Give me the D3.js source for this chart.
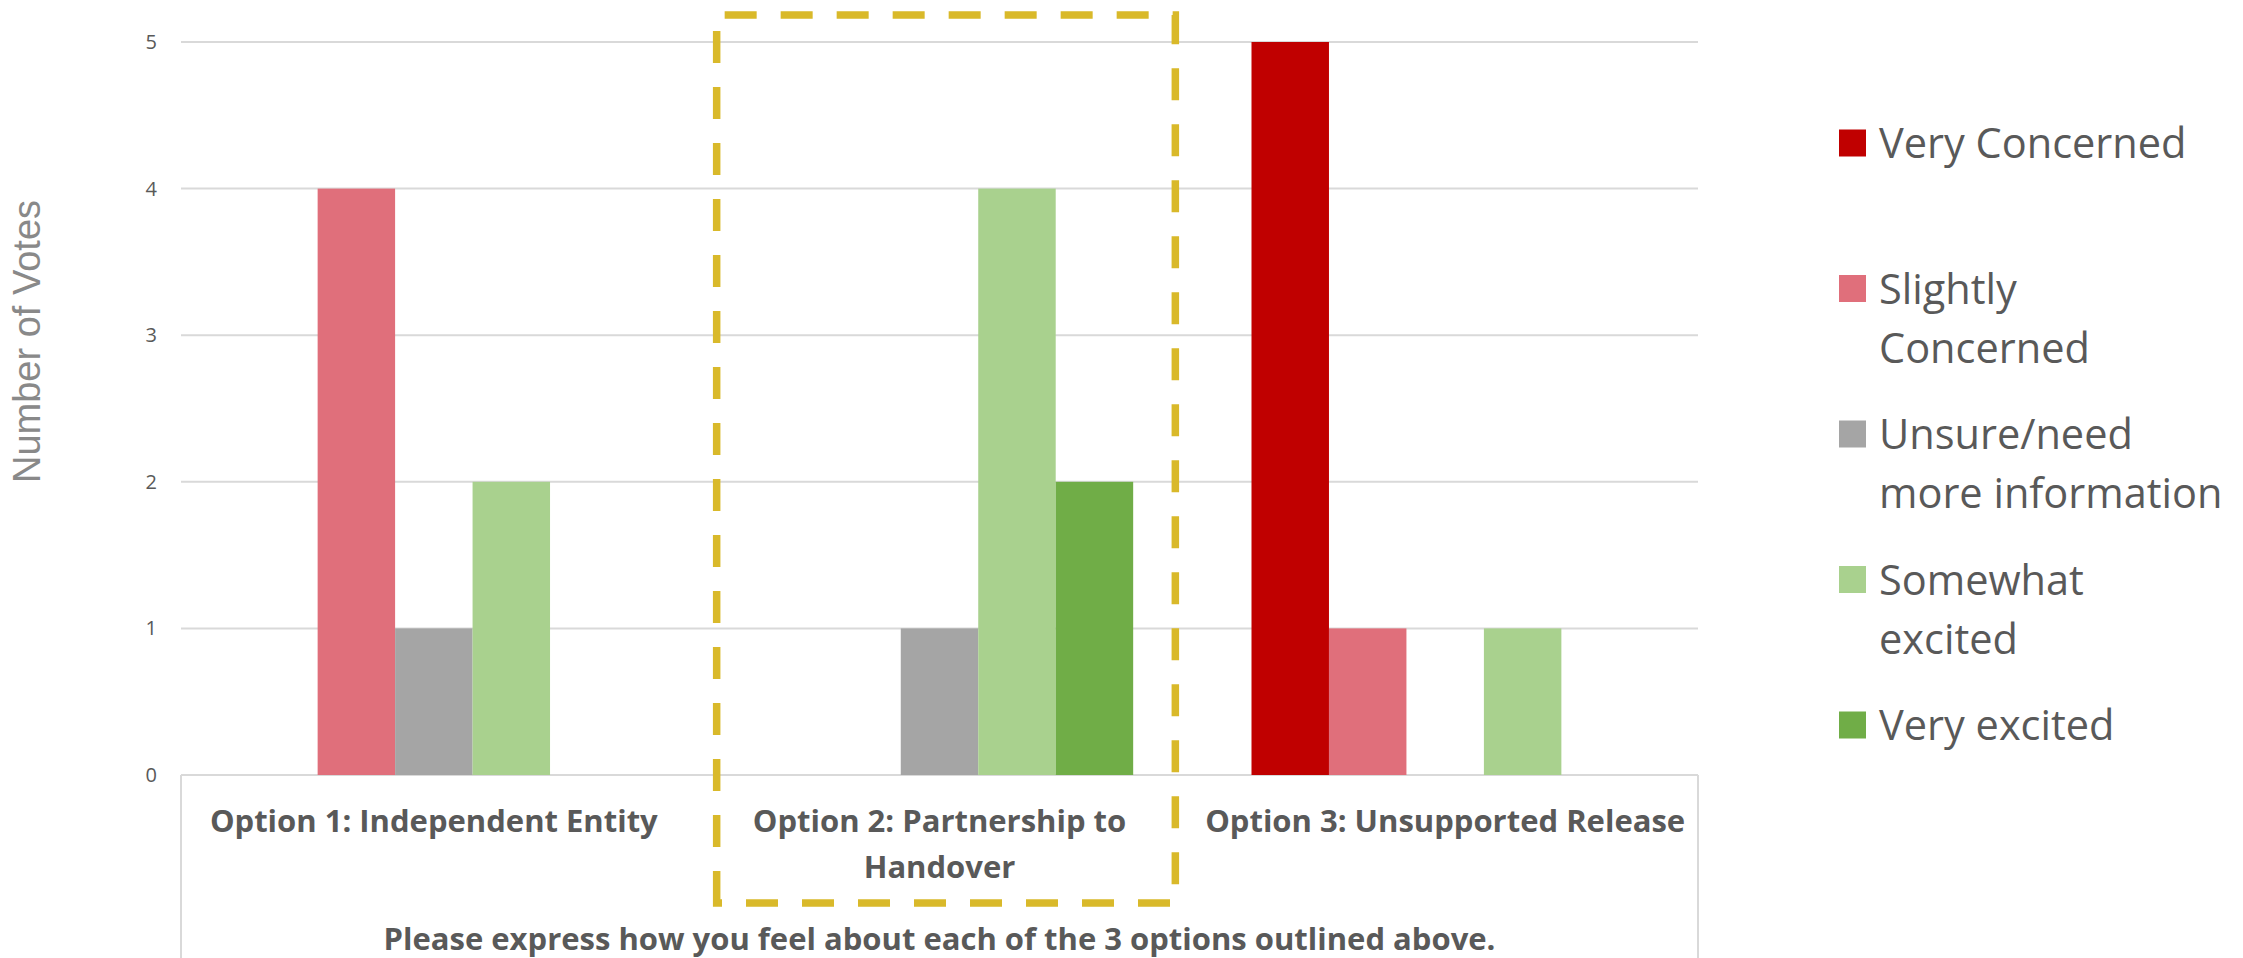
<!DOCTYPE html>
<html>
<head>
<meta charset="utf-8">
<script src="https://cdn.jsdelivr.net/npm/d3@7"></script>
<style>
  body { margin: 0; background: #fff; }
  svg { display: block; font-family: 'Open Sans', sans-serif; }
</style>
</head>
<body>
<div id="chart"></div>
<script>
// data
const categories = ['Option 1: Independent Entity', 'Option 2: Partnership to Handover', 'Option 3: Unsupported Release'];
const seriesNames = ['Very Concerned', 'Slightly Concerned', 'Unsure/need more information', 'Somewhat excited', 'Very excited'];
const legendLines = [['Very Concerned'], ['Slightly', 'Concerned'], ['Unsure/need', 'more information'], ['Somewhat', 'excited'], ['Very excited']];
const seriesColors = ['#C00000', '#E06F7B', '#A5A5A5', '#A9D18E', '#70AD47'];
const veryConcerned = [0, 0, 5];
const slightlyConcerned = [4, 0, 1];
const unsure = [1, 1, 0];
const somewhatExcited = [2, 4, 1];
const veryExcited = [0, 2, 0];
const yTicks = [0, 1, 2, 3, 4, 5];
const yTitle = 'Number of Votes';
const xTitle = 'Please express how you feel about each of the 3 options outlined above.';
const highlighted = 'Option 2: Partnership to Handover';

const seriesValues = [veryConcerned, slightlyConcerned, unsure, somewhatExcited, veryExcited];

const width = 2243;
const height = 958;
const plot = { left: 181, right: 1698, top: 42, bottom: 775 };

const svg = d3.select('#chart').append('svg')
  .attr('width', width)
  .attr('height', height);

const x0 = d3.scaleBand()
  .domain(categories)
  .range([plot.left, plot.right])
  .paddingInner(0.234)
  .paddingOuter(0.117);

const x1 = d3.scaleBand()
  .domain(seriesNames)
  .range([0, x0.bandwidth()]);

const y = d3.scaleLinear()
  .domain([0, 5])
  .range([plot.bottom, plot.top]);

// gridlines
svg.append('g')
  .selectAll('line')
  .data(yTicks)
  .enter().append('line')
  .attr('x1', plot.left)
  .attr('x2', plot.right)
  .attr('y1', d => y(d))
  .attr('y2', d => y(d))
  .attr('stroke', '#D9D9D9')
  .attr('stroke-width', 2);

// y tick labels
svg.append('g')
  .selectAll('text')
  .data(yTicks)
  .enter().append('text')
  .attr('x', plot.left - 24)
  .attr('y', d => y(d))
  .attr('dy', '0.35em')
  .attr('text-anchor', 'end')
  .attr('font-size', 20)
  .attr('fill', '#595959')
  .text(d => d);

// y title
svg.append('text')
  .attr('transform', `translate(40,${(plot.top + plot.bottom) / 2 - 67}) rotate(-90)`)
  .attr('text-anchor', 'middle')
  .attr('font-family', "'Liberation Sans', Arial, sans-serif")
  .attr('font-size', 38)
  .attr('fill', '#898989')
  .text(yTitle);

// bars
const groups = svg.append('g')
  .selectAll('g')
  .data(categories)
  .enter().append('g')
  .attr('transform', d => `translate(${x0(d)},0)`);

groups.selectAll('rect')
  .data((c, i) => seriesNames.map((s, j) => ({ s, v: seriesValues[j][i], color: seriesColors[j] })))
  .enter().append('rect')
  .attr('x', d => x1(d.s))
  .attr('width', x1.bandwidth())
  .attr('y', d => y(d.v))
  .attr('height', d => y(0) - y(d.v))
  .attr('fill', d => d.color);

// category label box
const box = svg.append('g').attr('stroke', '#D9D9D9').attr('stroke-width', 2);
box.append('line').attr('x1', plot.left).attr('x2', plot.left).attr('y1', plot.bottom).attr('y2', height);
box.append('line').attr('x1', plot.right).attr('x2', plot.right).attr('y1', plot.bottom).attr('y2', height);

// category labels, wrapped to band step
const step = x0.step();
const labels = svg.append('g')
  .selectAll('text')
  .data(categories)
  .enter().append('text')
  .attr('x', d => x0(d) + x0.bandwidth() / 2)
  .attr('y', plot.bottom + 57)
  .attr('text-anchor', 'middle')
  .attr('font-size', 31)
  .attr('font-weight', 'bold')
  .attr('fill', '#595959');

labels.each(function (d) {
  const el = d3.select(this);
  const words = d.split(' ');
  let line = [];
  let tspan = el.append('tspan').attr('x', el.attr('x')).attr('dy', 0);
  words.forEach(w => {
    line.push(w);
    tspan.text(line.join(' '));
    if (tspan.node().getComputedTextLength() > step - 10 && line.length > 1) {
      line.pop();
      tspan.text(line.join(' '));
      line = [w];
      tspan = el.append('tspan').attr('x', el.attr('x')).attr('dy', 46).text(w);
    }
  });
});

// x title
svg.append('text')
  .attr('x', (plot.left + plot.right) / 2)
  .attr('y', 950)
  .attr('text-anchor', 'middle')
  .attr('font-size', 31)
  .attr('font-weight', 'bold')
  .attr('fill', '#595959')
  .text(xTitle);

// dashed highlight around option 2
const hx0 = plot.left + step * categories.indexOf(highlighted) + 30;
const hx1 = plot.left + step * (categories.indexOf(highlighted) + 1) - 17;
const hy0 = y(5) - 27;
const hy1 = y(0) + 128;
svg.append('path')
  .attr('d', `M${hx0},${hy1} V${hy0} H${hx1} V${hy1} Z`)
  .attr('fill', 'none')
  .attr('stroke', '#D9B92A')
  .attr('stroke-width', 7.5)
  .attr('stroke-dasharray', '32,24')
  .attr('stroke-linejoin', 'miter');

// legend
const legend = svg.append('g')
  .selectAll('g')
  .data(seriesNames)
  .enter().append('g')
  .attr('transform', (d, i) => `translate(1839,${143 + i * 145.5})`);

legend.append('rect')
  .attr('x', 0)
  .attr('y', -13.5)
  .attr('width', 27)
  .attr('height', 27)
  .attr('fill', (d, i) => seriesColors[i]);

legend.append('text')
  .attr('font-size', 41.5)
  .attr('fill', '#595959')
  .selectAll('tspan')
  .data((d, i) => legendLines[i])
  .enter().append('tspan')
  .attr('x', 40)
  .attr('y', (d, k) => 15 + k * 59)
  .text(d => d);
</script>
</body>
</html>
